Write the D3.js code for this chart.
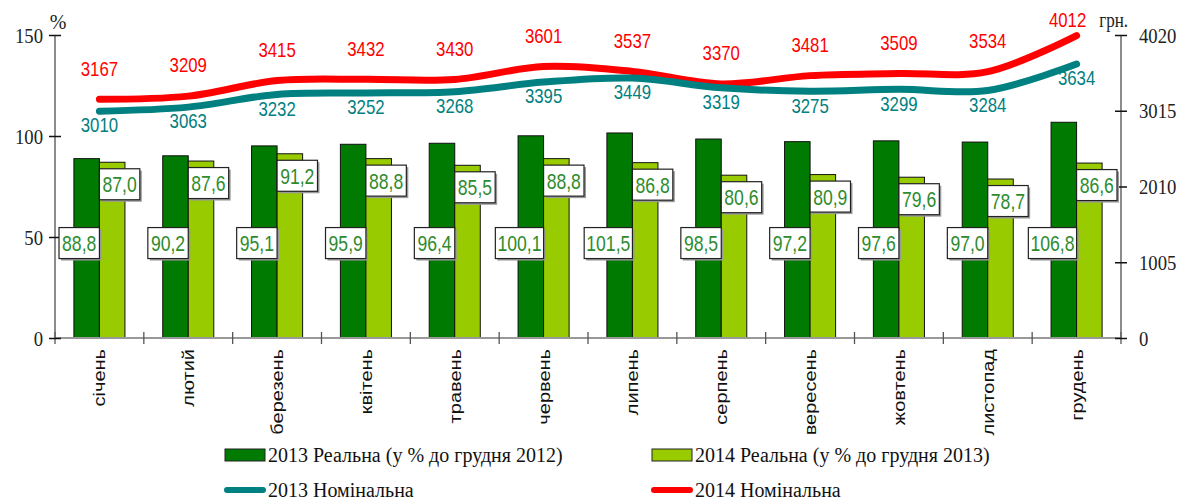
<!DOCTYPE html>
<html lang="uk">
<head>
<meta charset="utf-8">
<script src="https://cdn.jsdelivr.net/npm/d3@7"></script>
<style>
  body { margin: 0; background: #fff; }
  svg { display: block; }
</style>
</head>
<body>
<div id="chart"></div>
<script>
// data
const months = ['січень', 'лютий', 'березень', 'квітень', 'травень', 'червень',
                'липень', 'серпень', 'вересень', 'жовтень', 'листопад', 'грудень']
const real2013 = [88.8, 90.2, 95.1, 95.9, 96.4, 100.1, 101.5, 98.5, 97.2, 97.6, 97.0, 106.8]
const real2014 = [87.0, 87.6, 91.2, 88.8, 85.5, 88.8, 86.8, 80.6, 80.9, 79.6, 78.7, 86.6]
const nom2013 = [3010, 3063, 3232, 3252, 3268, 3395, 3449, 3319, 3275, 3299, 3284, 3634]
const nom2014 = [3167, 3209, 3415, 3432, 3430, 3601, 3537, 3370, 3481, 3509, 3534, 4012]
const leftTicks = [0, 50, 100, 150]
const rightTicks = [0, 1005, 2010, 3015, 4020]
const legendLabels = ['2013 Реальна (у % до грудня 2012)', '2014 Реальна (у % до грудня 2013)',
                      '2013 Номінальна', '2014 Номінальна']

let w = 1186
let h = 500
let plot = { left: 55, right: 1121, top: 35, bottom: 338 }
let c = { dark: '#007a00', light: '#99cc00', red: '#ff0000', teal: '#008080', lab: '#2e8b2e' }
let serif = '"Liberation Serif", "Times New Roman", serif'
let sans = '"Liberation Sans", Arial, sans-serif'

// horizontal squeeze of texts (the original is a narrowed picture)
function squish(sel, k) {
    sel.each(function() {
        let len = this.getComputedTextLength()
        d3.select(this).attr('textLength', len * k).attr('lengthAdjust', 'spacingAndGlyphs')
    })
}
let fmt = v => d3.format('.1f')(v).replace('.', ',')

let x = d3.scaleBand().domain(months).range([plot.left, plot.right])
let xs = d3.scaleBand().domain(['2013', '2014']).range([0, x.bandwidth()]).paddingOuter(0.74)
let yL = d3.scaleLinear().domain([0, 150]).range([plot.bottom, plot.top])
let yR = d3.scaleLinear().domain([0, 4020]).range([plot.bottom, plot.top])
let cx = m => x(m) + x.bandwidth() / 2

let svg = d3.select('#chart').append('svg').attr('width', w).attr('height', h)
svg.append('rect').attr('width', w).attr('height', h).attr('fill', '#fff')

// bars
let series = [{ key: '2013', vals: real2013, col: c.dark }, { key: '2014', vals: real2014, col: c.light }]
series.forEach(s => {
    svg.append('g').selectAll('rect')
        .data(months)
        .join('rect')
        .attr('x', (m) => x(m) + xs(s.key))
        .attr('width', xs.bandwidth())
        .attr('y', (m, i) => yL(s.vals[i]))
        .attr('height', (m, i) => yL(0) - yL(s.vals[i]))
        .attr('fill', s.col)
        .attr('stroke', '#111')
        .attr('stroke-width', 1)
})

// x axis
let xAxis = svg.append('g')
xAxis.append('line')
    .attr('x1', plot.left).attr('x2', plot.right)
    .attr('y1', plot.bottom).attr('y2', plot.bottom)
    .attr('stroke', '#999').attr('stroke-width', 2)
xAxis.selectAll('line.tk')
    .data(months.concat(['end']))
    .join('line')
    .attr('class', 'tk')
    .attr('x1', (m, i) => i < 12 ? x(m) : plot.right)
    .attr('x2', (m, i) => i < 12 ? x(m) : plot.right)
    .attr('y1', plot.bottom - 6).attr('y2', plot.bottom + 6)
    .attr('stroke', '#555').attr('stroke-width', 1.3)
let mLab = xAxis.selectAll('text')
    .data(months)
    .join('text')
    .attr('transform', m => 'translate(' + (cx(m) + 6) + ',' + (plot.bottom + 11) + ') rotate(-90)')
    .attr('text-anchor', 'end')
    .attr('font-family', sans)
    .attr('font-size', 16)
    .attr('fill', '#111')
    .text(m => m)
squish(mLab, 1.25)

// left axis
let lAxis = svg.append('g').attr('transform', 'translate(' + plot.left + ',0)')
    .call(d3.axisLeft(yL).tickValues(leftTicks).tickSize(6).tickFormat(d3.format('d')))
lAxis.attr('font-size', null).attr('font-family', null)
lAxis.select('.domain').attr('stroke', '#666').attr('stroke-width', 1.5)
    .attr('d', 'M0,' + plot.top + 'V' + plot.bottom)
lAxis.selectAll('.tick line').attr('x1', -6).attr('x2', 6).attr('stroke', '#111').attr('stroke-width', 1.5)
lAxis.selectAll('.tick text').attr('x', -12).attr('font-family', serif).attr('font-size', 22).attr('fill', '#222')
squish(lAxis.selectAll('.tick text'), 0.85)
svg.append('text').attr('x', plot.left + 3).attr('y', 29)
    .attr('text-anchor', 'middle').attr('font-family', serif).attr('font-size', 20).attr('fill', '#222').text('%')

// right axis
let rAxis = svg.append('g').attr('transform', 'translate(' + plot.right + ',0)')
    .call(d3.axisRight(yR).tickValues(rightTicks).tickSize(6).tickFormat(d3.format('d')))
rAxis.attr('font-size', null).attr('font-family', null)
rAxis.select('.domain').attr('stroke', '#666').attr('stroke-width', 1.5)
    .attr('d', 'M0,' + plot.top + 'V' + plot.bottom)
rAxis.selectAll('.tick line').attr('x1', -6).attr('x2', 6).attr('stroke', '#111').attr('stroke-width', 1.5)
rAxis.selectAll('.tick text').attr('x', 18).attr('font-family', serif).attr('font-size', 22).attr('fill', '#222')
squish(rAxis.selectAll('.tick text'), 0.85)
let grn = svg.append('text').attr('x', plot.right + 7).attr('y', 27)
    .attr('text-anchor', 'end').attr('font-family', serif).attr('font-size', 20).attr('fill', '#222').text('грн.')
squish(grn, 0.85)

// nominal lines
let line = d3.line()
    .x((d, i) => cx(months[i]))
    .y(d => yR(d))
    .curve(d3.curveCatmullRom.alpha(0.5))
let lines = [{ vals: nom2014, col: c.red, dy: -31 }, { vals: nom2013, col: c.teal, dy: 14 }]
lines.forEach(l => {
    svg.append('path')
        .datum(l.vals)
        .attr('d', line)
        .attr('fill', 'none')
        .attr('stroke', l.col)
        .attr('stroke-width', 7)
        .attr('stroke-linecap', 'round')
        .attr('stroke-linejoin', 'round')
    let t = svg.append('g').selectAll('text')
        .data(l.vals)
        .join('text')
        .attr('x', (d, i) => cx(months[i]) - (i === 11 && l.dy < 0 ? 9 : 0))
        .attr('y', d => Math.max(yR(d) + l.dy, 20))
        .attr('dy', '0.35em')
        .attr('text-anchor', 'middle')
        .attr('font-family', sans)
        .attr('font-size', 21)
        .attr('fill', l.col)
        .text(d => d)
    squish(t, 0.8)
})

// value boxes for bars
function box(xEdge, yc, val, side) {
    let g = svg.append('g')
    let t = g.append('text')
        .attr('y', yc).attr('dy', '0.36em')
        .attr('text-anchor', 'middle')
        .attr('font-family', sans)
        .attr('font-size', 22)
        .attr('fill', c.lab)
        .text(fmt(val))
    squish(t, 0.8)
    let tw = t.node().getComputedTextLength() * 0.8
    let bw = tw + 13
    let bh = 31
    let x0 = side < 0 ? xEdge - bw : xEdge
    t.attr('x', x0 + bw / 2)
    g.insert('rect', 'text').attr('x', x0 + 2).attr('y', yc - bh / 2 + 2).attr('width', bw).attr('height', bh)
        .attr('fill', '#9a9a9a')
    g.insert('rect', 'text').attr('x', x0).attr('y', yc - bh / 2).attr('width', bw).attr('height', bh)
        .attr('fill', '#fff').attr('stroke', '#222').attr('stroke-width', 1.2)
}
months.forEach((m, i) => {
    box(cx(m), yL(47), real2013[i], -1)
    box(cx(m), yL(real2014[i]) + 22, real2014[i], 1)
})

// legend
let leg = svg.append('g')
let legX = [225, 652]
let legY = [455, 490]
let legKeys = [
    { type: 'rect', col: c.dark }, { type: 'rect', col: c.light },
    { type: 'line', col: c.teal }, { type: 'line', col: c.red }
]
legKeys.forEach((k, i) => {
    let lx = legX[i % 2]
    let ly = legY[Math.floor(i / 2)]
    if (k.type === 'rect') {
        leg.append('rect').attr('x', lx).attr('y', ly - 6).attr('width', 40).attr('height', 12)
            .attr('fill', k.col).attr('stroke', '#222').attr('stroke-width', 1)
    } else {
        leg.append('line').attr('x1', lx + 2).attr('x2', lx + 38).attr('y1', ly).attr('y2', ly)
            .attr('stroke', k.col).attr('stroke-width', 6).attr('stroke-linecap', 'round')
    }
    let t = leg.append('text').attr('x', lx + 43).attr('y', ly).attr('dy', '0.35em')
        .attr('font-family', serif).attr('font-size', 20).attr('fill', '#111')
        .text(legendLabels[i])
    squish(t, 1.0)
})
</script>
</body>
</html>
